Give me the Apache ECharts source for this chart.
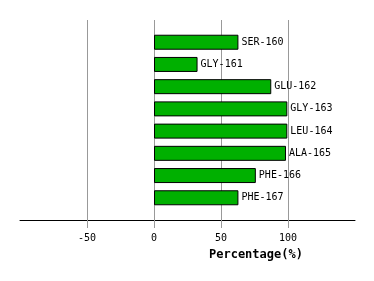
<!DOCTYPE html>
<html><head><meta charset="utf-8">
<script src="https://cdn.jsdelivr.net/npm/echarts@6/dist/echarts.min.js"></script>
<style>html,body{margin:0;padding:0;background:#fff}#c{width:374px;height:281px}</style>
</head><body><div id="c"></div>
<script>
var categories = ['SER-160','GLY-161','GLU-162','GLY-163','LEU-164','ALA-165','PHE-166','PHE-167'];
var values = [63, 32.5, 87.5, 99.5, 99.5, 98.5, 76, 63];
var tickValues = [-50, 0, 50, 100];
var axisTitle = 'Percentage(%)';

var chart = echarts.init(document.getElementById('c'));
var font = '"DejaVu Sans Mono", monospace';
var yData = [''].concat(categories, ['']);
chart.setOption({
  animation: false,
  grid: {left: 20, right: 19, top: 20, bottom: 61, containLabel: false},
  xAxis: {
    type: 'value', min: -100, max: 150, interval: 50,
    axisLine: {show: true, onZero: false, lineStyle: {color: '#000', width: 1}},
    axisTick: {show: true, length: 8, customValues: tickValues, lineStyle: {color: '#999'}},
    axisLabel: {customValues: tickValues, color: '#000', fontFamily: font, fontSize: 10, margin: 13},
    splitLine: {show: true, showMinLine: true, showMaxLine: true, lineStyle: {color: '#999', width: 1}}
  },
  yAxis: {
    type: 'category', data: yData, inverse: true, boundaryGap: false,
    axisLine: {show: false}, axisTick: {show: false}, axisLabel: {show: false},
    splitLine: {show: false}
  },
  graphic: [{
    type: 'text', left: 209, top: 249,
    style: {text: axisTitle, font: 'bold 12px "DejaVu Sans Mono", monospace', fill: '#000'}
  }],
  series: [{
    type: 'bar', barWidth: 15,
    data: values.map(function (v, i) { return [v, i + 1]; }),
    itemStyle: {color: '#00b000', borderColor: '#000', borderWidth: 1},
    label: {
      show: true, position: 'right', distance: 3, color: '#000',
      fontFamily: font, fontSize: 10,
      formatter: function (p) { return categories[p.dataIndex]; }
    }
  }]
});
</script></body></html>
